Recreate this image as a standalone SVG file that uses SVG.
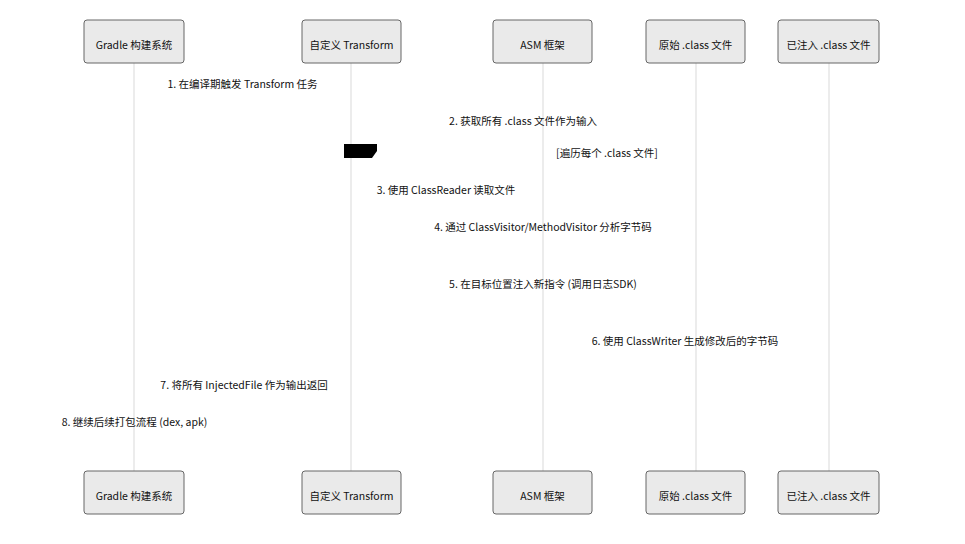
<svg xmlns="http://www.w3.org/2000/svg" width="965" height="544" viewBox="0 0 965 544">
<style>
.actor{fill:#eaeaea;stroke:#666;stroke-width:1}
.life{stroke:#d9d9d9;stroke-width:1}
text{font-family:"Noto Sans CJK SC","Noto Sans",sans-serif;font-size:10.5px;fill:#111;text-anchor:middle;dominant-baseline:central}
</style>
<rect width="965" height="544" fill="#fff"/>
<g id="lifelines">
<line class="life" x1="134" y1="63" x2="134" y2="471"/>
<line class="life" x1="351" y1="63" x2="351" y2="471"/>
<line class="life" x1="543" y1="63" x2="543" y2="471"/>
<line class="life" x1="696" y1="63" x2="696" y2="471"/>
<line class="life" x1="829" y1="63" x2="829" y2="471"/>
</g>
<g id="gradle">
<rect class="actor" x="84" y="20" width="100" height="43" rx="3"/>
<text x="134" y="44">Gradle 构建系统</text>
<rect class="actor" x="84" y="471" width="100" height="43" rx="3"/>
<text x="134" y="495">Gradle 构建系统</text>
</g>
<g id="transform">
<rect class="actor" x="302" y="20" width="99" height="43" rx="3"/>
<text x="351.5" y="44">自定义 Transform</text>
<rect class="actor" x="302" y="471" width="99" height="43" rx="3"/>
<text x="351.5" y="495">自定义 Transform</text>
</g>
<g id="asm">
<rect class="actor" x="493" y="20" width="99" height="43" rx="3"/>
<text x="542.5" y="44">ASM 框架</text>
<rect class="actor" x="493" y="471" width="99" height="43" rx="3"/>
<text x="542.5" y="495">ASM 框架</text>
</g>
<g id="original">
<rect class="actor" x="646" y="20" width="99" height="43" rx="3"/>
<text x="695.5" y="44">原始 .class 文件</text>
<rect class="actor" x="646" y="471" width="99" height="43" rx="3"/>
<text x="695.5" y="495">原始 .class 文件</text>
</g>
<g id="injected">
<rect class="actor" x="778" y="20" width="101" height="43" rx="3"/>
<text x="828.5" y="44">已注入 .class 文件</text>
<rect class="actor" x="778" y="471" width="101" height="43" rx="3"/>
<text x="828.5" y="495">已注入 .class 文件</text>
</g>
<g id="connectors">
<text x="242.5" y="83.5">1. 在编译期触发 Transform 任务</text>
<text x="523" y="120.5">2. 获取所有 .class 文件作为输入</text>
<polygon points="344,144 377,144 377,151 372,158 344,158" fill="#000"/>
<text x="607" y="152.5">[遍历每个 .class 文件]</text>
<text x="446" y="189.5">3. 使用 ClassReader 读取文件</text>
<text x="543" y="226.5">4. 通过 ClassVisitor/MethodVisitor 分析字节码</text>
<text x="543" y="283.5">5. 在目标位置注入新指令 (调用日志SDK)</text>
<text x="685" y="340.5">6. 使用 ClassWriter 生成修改后的字节码</text>
<text x="244" y="384.5">7. 将所有 InjectedFile 作为输出返回</text>
<text x="134.5" y="421.5">8. 继续后续打包流程 (dex, apk)</text>
</g>
</svg>
